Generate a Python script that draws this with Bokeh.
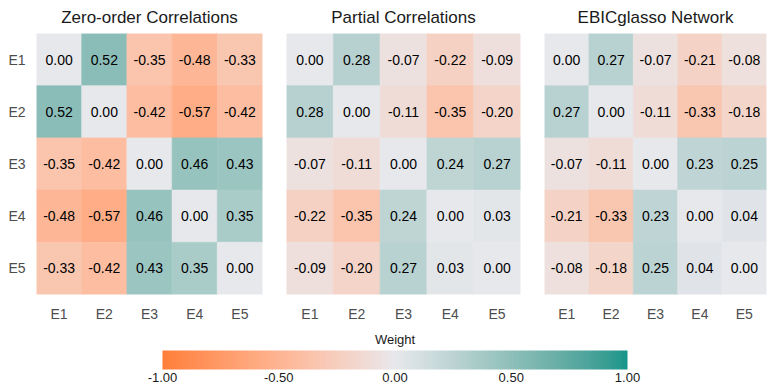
from bokeh.plotting import figure
from bokeh.layouts import column, row
from bokeh.models import (LinearColorMapper, ColorBar, FixedTicker,
                          NumeralTickFormatter, ColumnDataSource)
from bokeh.transform import transform
from bokeh.core.properties import value
from bokeh.embed import file_html
from bokeh.resources import INLINE

# ---------------- data ----------------
labels = ["E1", "E2", "E3", "E4", "E5"]

zero_order = [
    [0.00, 0.52, -0.35, -0.48, -0.33],
    [0.52, 0.00, -0.42, -0.57, -0.42],
    [-0.35, -0.42, 0.00, 0.46, 0.43],
    [-0.48, -0.57, 0.46, 0.00, 0.35],
    [-0.33, -0.42, 0.43, 0.35, 0.00],
]
partial = [
    [0.00, 0.28, -0.07, -0.22, -0.09],
    [0.28, 0.00, -0.11, -0.35, -0.20],
    [-0.07, -0.11, 0.00, 0.24, 0.27],
    [-0.22, -0.35, 0.24, 0.00, 0.03],
    [-0.09, -0.20, 0.27, 0.03, 0.00],
]
ebicglasso = [
    [0.00, 0.27, -0.07, -0.21, -0.08],
    [0.27, 0.00, -0.11, -0.33, -0.18],
    [-0.07, -0.11, 0.00, 0.23, 0.25],
    [-0.21, -0.33, 0.23, 0.00, 0.04],
    [-0.08, -0.18, 0.25, 0.04, 0.00],
]
panel_titles = ["Zero-order Correlations", "Partial Correlations", "EBICglasso Network"]
legend_title = "Weight"
legend_ticks = [-1.0, -0.5, 0.0, 0.5, 1.0]

# ---------------- style ----------------
FONT = "Liberation Sans"
LOW, MID, HIGH = "#FF7F3A", "#E8E8EC", "#17968B"


def hex2rgb(h):
    h = h.lstrip("#")
    return tuple(int(h[i:i + 2], 16) for i in (0, 2, 4))


def _lin(c):
    c = c / 255.0
    return c / 12.92 if c <= 0.04045 else ((c + 0.055) / 1.055) ** 2.4


def _gam(c):
    c = 12.92 * c if c <= 0.0031308 else 1.055 * c ** (1 / 2.4) - 0.055
    return max(0, min(255, round(c * 255)))


def _f(t):
    return t ** (1 / 3) if t > 0.008856 else 7.787 * t + 16 / 116


def _finv(t):
    return t ** 3 if t ** 3 > 0.008856 else (t - 16 / 116) / 7.787


WN = (0.95047, 1.0, 1.08883)


def to_lab(h):
    r, g, b = (_lin(c) for c in hex2rgb(h))
    X = 0.4124 * r + 0.3576 * g + 0.1805 * b
    Y = 0.2126 * r + 0.7152 * g + 0.0722 * b
    Z = 0.0193 * r + 0.1192 * g + 0.9505 * b
    fx, fy, fz = _f(X / WN[0]), _f(Y / WN[1]), _f(Z / WN[2])
    return (116 * fy - 16, 500 * (fx - fy), 200 * (fy - fz))


def from_lab(L, a, b):
    fy = (L + 16) / 116
    fx = fy + a / 500
    fz = fy - b / 200
    X, Y, Z = _finv(fx) * WN[0], _finv(fy) * WN[1], _finv(fz) * WN[2]
    r = 3.2406 * X - 1.5372 * Y - 0.4986 * Z
    g = -0.9689 * X + 1.8758 * Y + 0.0415 * Z
    bb = 0.0557 * X - 0.2040 * Y + 1.0570 * Z
    return "#%02x%02x%02x" % (_gam(max(r, 0)), _gam(max(g, 0)), _gam(max(bb, 0)))


def blend(c1, c2, t):
    a, b = to_lab(c1), to_lab(c2)
    return from_lab(*(a[k] + (b[k] - a[k]) * t for k in range(3)))


palette = []
for i in range(256):
    v = -1 + 2 * i / 255
    palette.append(blend(MID, LOW, -v) if v < 0 else blend(MID, HIGH, v))

mapper = LinearColorMapper(palette=palette, low=-1, high=1)


def make_panel(mat, title, frame_w, left, right, show_y):
    xs, ys, vals, txt = [], [], [], []
    for i, rl in enumerate(labels):
        for j, cl in enumerate(labels):
            xs.append(cl)
            ys.append(rl)
            vals.append(mat[i][j])
            txt.append("%.2f" % mat[i][j])
    src = ColumnDataSource(dict(x=xs, y=ys, v=vals, t=txt))
    p = figure(x_range=labels, y_range=list(reversed(labels)),
               frame_width=frame_w, frame_height=261,
               min_border_left=left, min_border_right=right,
               min_border_top=33, min_border_bottom=30,
               output_backend="svg", toolbar_location=None,
               y_axis_location="left" if show_y else None,
               title=title)
    p.rect(x="x", y="y", width=1, height=1, source=src,
           fill_color=transform("v", mapper), line_color=transform("v", mapper),
           line_width=0.6)
    p.text(x="x", y="y", text="t", source=src, text_align="center",
           text_baseline="middle", text_font=value(FONT),
           text_font_size="14px", text_color="#000000")
    p.title.align = "center"
    p.title.vertical_align = "top"
    p.title.text_font = FONT
    p.title.text_font_size = "17px"
    p.title.text_font_style = "normal"
    p.title.text_color = "#1a1a1a"
    p.title.standoff = 10
    p.grid.visible = False
    p.outline_line_color = None
    p.background_fill_color = "white"
    p.border_fill_color = "white"
    for ax in p.axis:
        ax.axis_line_color = None
        ax.major_tick_line_color = None
        ax.minor_tick_line_color = None
        ax.major_tick_out = 0
        ax.major_tick_in = 0
        ax.major_label_text_font = FONT
        ax.major_label_text_font_size = "14px"
        ax.major_label_text_color = "#4d4d4d"
        ax.major_label_standoff = 11
    return p


p1 = make_panel(zero_order, panel_titles[0], 226, 36, 12, True)
p2 = make_panel(partial, panel_titles[1], 234, 12, 12, False)
p3 = make_panel(ebicglasso, panel_titles[2], 222, 12, 6, False)

# ---------------- colour bar ----------------
pc = figure(frame_width=465, frame_height=36, min_border_left=162,
            min_border_right=139, min_border_top=26, min_border_bottom=0,
            output_backend="svg", toolbar_location=None,
            x_axis_location=None, y_axis_location=None, title=legend_title)
pc.outline_line_color = None
pc.grid.visible = False
pc.title.align = "center"
pc.title.text_font = FONT
pc.title.text_font_size = "13px"
pc.title.text_font_style = "normal"
pc.title.text_color = "#1a1a1a"
pc.title.standoff = 7

cb = ColorBar(color_mapper=mapper, orientation="horizontal", location="top_left",
              width=465, height=19, padding=0, margin=0,
              ticker=FixedTicker(ticks=legend_ticks),
              formatter=NumeralTickFormatter(format="0.00"),
              major_tick_line_color=None, minor_tick_line_color=None,
              bar_line_color=None, border_line_color=None,
              background_fill_alpha=0,
              major_label_text_font=FONT, major_label_text_font_size="13px",
              major_label_text_color="#1a1a1a", label_standoff=3)
pc.add_layout(cb, "center")

layout = column(row(p1, p2, p3), pc)

with open("out.html", "w") as f:
    f.write(file_html(layout, INLINE))
